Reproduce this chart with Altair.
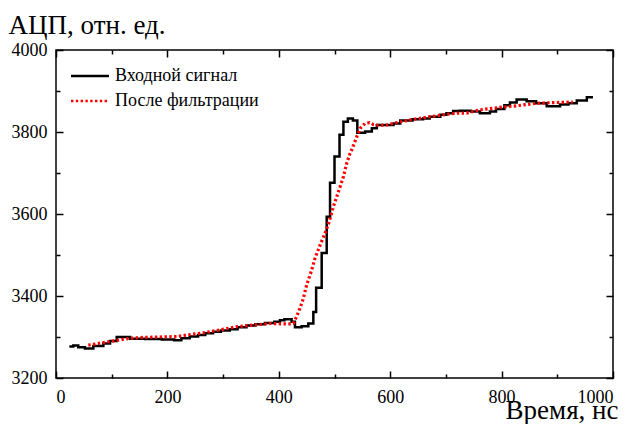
import altair as alt
import pandas as pd

# ---- data ----
series_names = ["Входной сигнал", "После фильтрации"]

input_t = [24, 31, 40, 52, 67, 85, 97, 109, 133, 160, 190, 212, 225, 240, 255, 268,
           282, 296, 312, 326, 342, 358, 375, 392, 402, 410, 423, 429, 441, 453, 462,
           467, 477, 486, 492, 500, 509, 516, 524, 533, 541, 555, 567, 576, 606, 618,
           640, 659, 671, 690, 701, 713, 725, 745, 761, 779, 790, 805, 815, 827, 845,
           862, 881, 905, 920, 935, 953, 964]
input_v = [3277, 3279, 3275, 3272, 3278, 3284, 3290, 3300, 3296, 3295, 3294, 3292, 3297,
           3301, 3305, 3309, 3313, 3316, 3319, 3324, 3328, 3331, 3334, 3337, 3341, 3343,
           3337, 3324, 3326, 3333, 3361, 3420, 3505, 3593, 3676, 3740, 3793, 3825, 3833,
           3828, 3798, 3801, 3809, 3817, 3821, 3828, 3831, 3833, 3837, 3842, 3846, 3851,
           3852, 3850, 3846, 3850, 3856, 3865, 3872, 3879, 3875, 3870, 3863, 3867, 3870,
           3877, 3885, 3885]

filtered_t = [58, 79, 97, 115, 133, 157, 187, 217, 235, 264, 293, 324, 354, 384, 408, 420,
              426, 432, 438, 444, 450, 459, 465, 474, 483, 490, 498, 507, 516, 522, 528,
              532, 539, 546, 555, 563, 570, 580, 594, 612, 642, 671, 701, 720, 737, 761,
              797, 827, 863, 899, 928]
filtered_v = [3280, 3285, 3289, 3293, 3297, 3299, 3300, 3301, 3305, 3310, 3317, 3325, 3329,
              3333, 3332, 3332, 3333, 3350, 3370, 3394, 3427, 3463, 3492, 3524, 3553, 3579,
              3618, 3654, 3691, 3724, 3748, 3760, 3785, 3809, 3821, 3823, 3818, 3816, 3817,
              3823, 3831, 3837, 3843, 3846, 3846, 3854, 3860, 3864, 3870, 3872, 3873]

x_major = [0, 200, 400, 600, 800, 1000]
x_minor = [100, 300, 500, 700, 900]
y_major = [3200, 3400, 3600, 3800, 4000]
y_minor = [3300, 3500, 3700, 3900]

# ---- layout ----
W, H = 557, 328
FONT = "Liberation Serif"
LABEL_SIZE = 18
TITLE_SIZE = 27

df_in = pd.DataFrame({"t": input_t, "v": input_v, "s": series_names[0]})
df_f = pd.DataFrame({"t": filtered_t, "v": filtered_v, "s": series_names[1]})

xs = alt.Scale(domain=[0, 1000], nice=False, zero=False)
ys = alt.Scale(domain=[3200, 4000], nice=False, zero=False)

# symbol: horizontal stroke 2.5x the nominal symbol diameter (sqrt(size) = 15.2 -> 38 px)
legend = alt.Legend(title=None, orient="none", legendX=25, legendY=17,
                    labelFont=FONT, labelFontSize=LABEL_SIZE, labelColor="black",
                    symbolType="M-2.5,0L2.5,0", symbolSize=231, symbolStrokeWidth=2.5,
                    rowPadding=7, labelOffset=16, padding=0)

color = alt.Color("s:N", scale=alt.Scale(domain=series_names, range=["#000000", "#ff0000"]),
                  legend=legend)
dash = alt.StrokeDash("s:N", scale=alt.Scale(domain=series_names, range=[[1, 0], [2.4, 2.4]]),
                      legend=legend)


def tick_axis(orient, offset, values, size):
    return alt.Axis(orient=orient, offset=offset, values=values, tickSize=size,
                    tickWidth=1.5, tickColor="black", labels=False, domain=False,
                    grid=False, title="")


main_x = alt.Axis(orient="bottom", values=x_major, ticks=False, tickSize=0, domain=False,
                  grid=False, format="d", labelFont=FONT, labelFontSize=LABEL_SIZE,
                  labelColor="black", labelPadding=10, title="Время, нс", titleFont=FONT,
                  titleFontSize=TITLE_SIZE, titleFontWeight="normal", titleColor="black",
                  titleX=562, titleY=40, titleAlign="right", titleBaseline="alphabetic")
main_y = alt.Axis(orient="left", values=y_major, ticks=False, tickSize=0, domain=False,
                  grid=False, format="d", labelFont=FONT, labelFontSize=LABEL_SIZE,
                  labelColor="black", labelPadding=9, title="АЦП, отн. ед.", titleFont=FONT,
                  titleFontSize=TITLE_SIZE, titleFontWeight="normal", titleColor="black",
                  titleAngle=0, titleX=-48, titleY=-17, titleAlign="left",
                  titleBaseline="alphabetic")

black = alt.Chart(df_in).mark_line(interpolate="step-after", strokeWidth=2.5).encode(
    x=alt.X("t:Q", scale=xs, axis=main_x),
    y=alt.Y("v:Q", scale=ys, axis=main_y),
    color=color, strokeDash=dash)

red = alt.Chart(df_f).mark_line(strokeWidth=3.2).encode(
    x=alt.X("t:Q", scale=xs, axis=tick_axis("top", -H, x_major, 7)),
    y=alt.Y("v:Q", scale=ys, axis=tick_axis("right", -W, y_major, 7)),
    color=color, strokeDash=dash)

dummy1 = alt.Chart(df_in).mark_line(opacity=0).encode(
    x=alt.X("t:Q", scale=xs, axis=tick_axis("top", -H, x_minor, 4)),
    y=alt.Y("v:Q", scale=ys, axis=tick_axis("right", -W, y_minor, 4)))
dummy2 = alt.Chart(df_in).mark_line(opacity=0).encode(
    x=alt.X("t:Q", scale=xs, axis=tick_axis("bottom", -H, x_major, 7)),
    y=alt.Y("v:Q", scale=ys, axis=tick_axis("left", -W, y_major, 7)))
dummy3 = alt.Chart(df_in).mark_line(opacity=0).encode(
    x=alt.X("t:Q", scale=xs, axis=tick_axis("bottom", -H, x_minor, 4)),
    y=alt.Y("v:Q", scale=ys, axis=tick_axis("left", -W, y_minor, 4)))

chart = alt.layer(black, red, dummy1, dummy2, dummy3).resolve_axis(
    x="independent", y="independent"
).properties(
    width=W, height=H,
    padding={"left": 48, "top": 42, "right": 14, "bottom": 46},
    autosize=alt.AutoSizeParams(type="none"),
    background="white",
).configure(
    font=FONT
).configure_axis(
    labelFont=FONT, labelFontSize=LABEL_SIZE, labelColor="black", titleFont=FONT
).configure_legend(
    labelFont=FONT, labelFontSize=LABEL_SIZE, labelColor="black"
).configure_view(stroke="black", strokeWidth=1.5)

chart.save("out.html", embed_options={"renderer": "svg", "actions": False})
